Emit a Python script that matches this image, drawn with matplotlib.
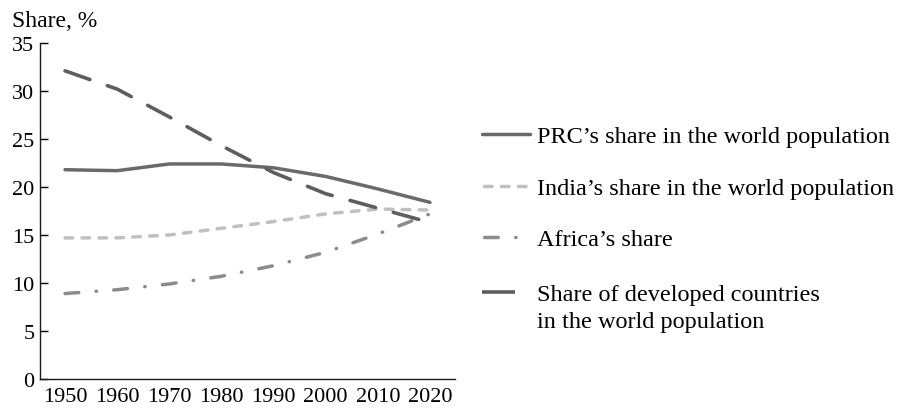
import matplotlib
matplotlib.use("Agg")
import matplotlib.pyplot as plt
from matplotlib.lines import Line2D

plt.rcParams['font.family'] = ['Liberation Serif', 'DejaVu Serif']
plt.rcParams['lines.scale_dashes'] = False

years = [1950, 1960, 1970, 1980, 1990, 2000, 2010, 2020]
prc = [21.8, 21.7, 22.4, 22.4, 22.0, 21.1, 19.8, 18.4]
india = [14.7, 14.7, 15.0, 15.7, 16.4, 17.2, 17.7, 17.6]
africa = [8.9, 9.3, 9.9, 10.7, 11.8, 13.2, 15.1, 17.2]
developed = [32.1, 30.2, 27.3, 24.3, 21.5, 19.3, 17.8, 16.3]

labels = ["PRC’s share in the world population",
          "India’s share in the world population",
          "Africa’s share",
          "Share of developed countries\nin the world population"]

W, H = 899, 410
fig = plt.figure(figsize=(W / 100, H / 100), dpi=100)
ax = fig.add_axes([40 / W, 30 / H, 415 / W, 336 / H])

styles = [
    dict(color='#6a6a6a', lw=2.5, linestyle='-', solid_capstyle='round'),
    dict(color='#c0c0c0', lw=2.5, linestyle=(0, (5.5, 6.7)), dash_capstyle='round'),
    dict(color='#8c8c8c', lw=2.5, linestyle=(0, (9.9, 12.5, 0.3, 12.5)), dash_capstyle='round'),
    dict(color='#5e5e5e', lw=2.6, linestyle=(0, (19, 13.3)), dash_capstyle='round'),
]

for vals, st in zip([prc, india, africa, developed], styles):
    ax.plot(years, vals, **st)

ax.set_xlim(1945.2, 2024.8)
ax.set_ylim(0, 35)
ax.set_xticks(years)
ax.set_yticks(range(0, 36, 5))
for s in ['top', 'right']:
    ax.spines[s].set_visible(False)
for s in ['left', 'bottom']:
    ax.spines[s].set_linewidth(1.0)
    ax.spines[s].set_color('#1a1a1a')
ax.tick_params(axis='y', direction='in', length=6, width=1.0, labelsize=16, pad=4)
ax.tick_params(axis='x', length=0, labelsize=16, pad=6)

fig.text(12 / W, 1 - 27 / H, "Share, %", fontsize=17, va='baseline', ha='left')

# legend drawn by hand: handle spans and row positions in pixels
rows = [135, 187, 238, 293]
spans = [(482, 530), (484, 530), (484, 520), (482, 515)]
for i, (y, (x0, x1), st, lab) in enumerate(zip(rows, spans, styles, labels)):
    st = dict(st)
    if i == 3:
        # the developed-countries key is a single short dash
        st['linestyle'] = '-'
        st['solid_capstyle'] = 'butt'
    fig.add_artist(Line2D([x0 / W, x1 / W], [1 - y / H, 1 - y / H],
                          transform=fig.transFigure, **st))
    for j, line in enumerate(lab.split("\n")):
        fig.text(537 / W, 1 - (y + 8 + 27 * j) / H, line, fontsize=17.5,
                 va='baseline', ha='left')

fig.savefig("out.png", dpi=100)
